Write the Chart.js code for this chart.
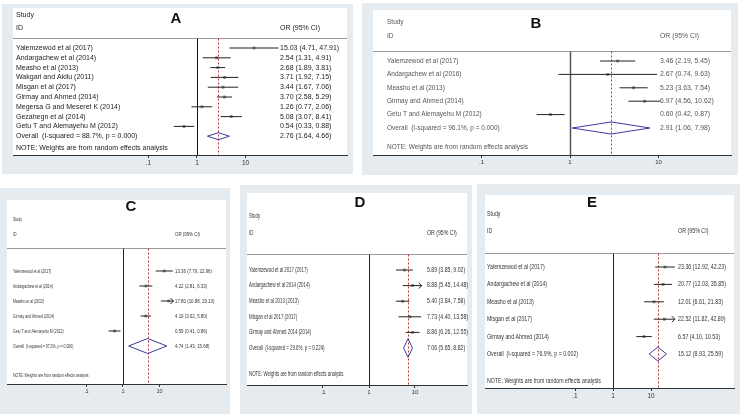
<!DOCTYPE html>
<html>
<head>
<meta charset="utf-8">
<script src="https://cdn.jsdelivr.net/npm/chart.js@4.4.1/dist/chart.umd.min.js"></script>
<style>
html, body { margin: 0; padding: 0; background: #fff; }
body { width: 740px; height: 414px; position: relative; overflow: hidden; }
.panel { position: absolute; background: #e5ebee; }
.panel canvas { position: absolute; left: 0; top: 0; }
</style>
</head>
<body>
<div class="panel" id="pA"><canvas id="cA"></canvas></div>
<div class="panel" id="pB"><canvas id="cB"></canvas></div>
<div class="panel" id="pC"><canvas id="cC"></canvas></div>
<div class="panel" id="pD"><canvas id="cD"></canvas></div>
<div class="panel" id="pE"><canvas id="cE"></canvas></div>
<script>
// ---- data ----
const studiesA = ["Yalemzewod et al (2017)", "Andargachew et al (2014)", "Measho et al (2013)", "Wakgari and Akilu (2011)", "Misgan et al (2017)", "Girmay and Ahmed (2014)", "Megersa G and Meseret K (2014)", "Gezahegn et al (2014)", "Getu T and Alemayehu M (2012)"];
const orA = [15.03, 2.54, 2.68, 3.71, 3.44, 3.70, 1.26, 5.08, 0.54];
const loA = [4.71, 1.31, 1.89, 1.92, 1.67, 2.58, 0.77, 3.07, 0.33];
const hiA = [47.91, 4.91, 3.81, 7.15, 7.06, 5.29, 2.06, 8.41, 0.88];
const overallA = [2.76, 1.64, 4.66];
const overallLabelA = "Overall  (I-squared = 88.7%, p = 0.000)";

const studiesB = ["Yalemzewod et al (2017)", "Andargachew et al (2016)", "Measho et al (2013)", "Girmay and Ahmed (2014)", "Getu T and Alemayehu M (2012)"];
const orB = [3.46, 2.67, 5.23, 6.97, 0.60];
const loB = [2.19, 0.74, 3.63, 4.56, 0.42];
const hiB = [5.45, 9.63, 7.54, 10.62, 0.87];
const overallB = [2.91, 1.06, 7.98];
const overallLabelB = "Overall  (I-squared = 96.1%, p = 0.000)";

const studiesC = ["Yalemzewod et al (2017)", "Andargachew et al (2014)", "Measho et al (2013)", "Girmay and Ahmed (2014)", "Getu T and Alemayehu M (2012)"];
const orC = [13.36, 4.22, 17.80, 4.19, 0.59];
const loC = [7.79, 2.81, 10.88, 3.02, 0.41];
const hiC = [22.96, 6.33, 29.13, 5.80, 0.86];
const overallC = [4.74, 1.43, 15.68];
const overallLabelC = "Overall  (I-squared = 97.2%, p = 0.000)";

const studiesD = ["Yalemzewod et al 2017 (2017)", "Andargachew et al 2014 (2014)", "Measho et al 2013 (2013)", "Misgan et al 2017 (2017)", "Girmay and Ahmed 2014 (2014)"];
const orD = [5.89, 8.88, 5.40, 7.73, 8.86];
const loD = [3.85, 5.45, 3.84, 4.40, 6.26];
const hiD = [9.02, 14.48, 7.58, 13.58, 12.55];
const overallD = [7.06, 5.65, 8.82];
const overallLabelD = "Overall  (I-squared = 29.6%, p = 0.224)";

const studiesE = ["Yalemzewod et al (2017)", "Andargachew et al (2014)", "Measho et al (2013)", "Misgan et al (2017)", "Girmay and Ahmed (2014)"];
const orE = [23.36, 20.77, 12.01, 22.52, 6.57];
const loE = [12.92, 12.03, 6.61, 11.82, 4.10];
const hiE = [42.23, 35.85, 21.83, 42.89, 10.53];
const overallE = [15.12, 8.93, 25.59];
const overallLabelE = "Overall  (I-squared = 76.9%, p = 0.002)";

const xTicks = [0.1, 1, 10];
const xTickLabels = [".1", "1", "10"];
const noteText = "NOTE: Weights are from random effects analysis";

// ---- layout (page pixels) ----
const panels = [
  {id: "A", studies: studiesA, or: orA, lo: loA, hi: hiA, overall: overallA, overallLabel: overallLabelA,
   frame: [2, 4, 353, 174], area: [13, 8, 347, 155], one: 197, dec: 48.5, row1: 48, step: 9.8,
   head: 38, studyY: 15, idY: 28, noteY: 148, labelX: 16, valueX: 280, title: [176, 19],
   font: 7, lsx: 1, vsx: 1, color: "#222", tickFont: 6.5, diamond: 0.36, clip: 1e9, nullW: 1, nullC: "#111"},
  {id: "B", studies: studiesB, or: orB, lo: loB, hi: hiB, overall: overallB, overallLabel: overallLabelB,
   frame: [362, 3, 738, 175], area: [373, 10, 731, 155], one: 570, dec: 88.5, row1: 61, step: 13.4,
   head: 51, studyY: 22, idY: 36, noteY: 147, labelX: 387, valueX: 660, title: [536, 24],
   font: 6.5, lsx: 1, vsx: 1.05, color: "#555", tickFont: 6, diamond: 0.45, clip: 1e9, nullW: 1.5, nullC: "#555"},
  {id: "C", studies: studiesC, or: orC, lo: loC, hi: hiC, overall: overallC, overallLabel: overallLabelC,
   frame: [0, 188, 230, 414], area: [7, 200, 228, 384], one: 124, dec: 37, row1: 271, step: 15,
   head: 248, studyY: 219, idY: 234, noteY: 375, labelX: 13, valueX: 175, title: [131, 207],
   font: 6, lsx: 0.58, vsx: 0.73, color: "#333", tickFont: 5.5, diamond: 0.5, clip: 24, nullW: 1, nullC: "#222"},
  {id: "D", studies: studiesD, or: orD, lo: loD, hi: hiD, overall: overallD, overallLabel: overallLabelD,
   frame: [240, 185, 472, 414], area: [247, 193, 467, 385], one: 369, dec: 46, row1: 270, step: 15.6,
   head: 254, studyY: 216, idY: 233, noteY: 374, labelX: 249, valueX: 427, title: [360, 203],
   font: 6.5, lsx: 0.67, vsx: 0.8, color: "#333", tickFont: 6, diamond: 0.6, clip: 14, nullW: 1, nullC: "#222"},
  {id: "E", studies: studiesE, or: orE, lo: loE, hi: hiE, overall: overallE, overallLabel: overallLabelE,
   frame: [477, 184, 740, 414], area: [485, 195, 734, 388], one: 613, dec: 38, row1: 267, step: 17.4,
   head: 253, studyY: 214, idY: 231, noteY: 381, labelX: 487, valueX: 678, title: [592, 203],
   font: 7, lsx: 0.75, vsx: 0.76, color: "#333", tickFont: 6.5, diamond: 0.4, clip: 42.5, nullW: 1, nullC: "#222"}
];

const FONT = '"Liberation Sans", Arial, sans-serif';

function fmt(v) { return v.toFixed(2); }

function txt(ctx, s, x, y, size, sx, color, weight, align) {
  ctx.save();
  ctx.font = (weight || "normal") + " " + size + "px " + FONT;
  ctx.fillStyle = color;
  ctx.textBaseline = "middle";
  ctx.textAlign = align || "left";
  ctx.translate(x, y);
  ctx.scale(sx, 1);
  ctx.fillText(s, 0, 0);
  ctx.restore();
}

function seg(ctx, x1, y1, x2, y2) {
  ctx.beginPath(); ctx.moveTo(x1, y1); ctx.lineTo(x2, y2); ctx.stroke();
}

function makePanel(p) {
  const [fl, ft, fr, fb] = p.frame;
  const [al, at, ar, ab] = p.area;
  const div = document.getElementById("p" + p.id);
  div.style.left = fl + "px"; div.style.top = ft + "px";
  div.style.width = (fr - fl) + "px"; div.style.height = (fb - ft) + "px";
  const canvas = document.getElementById("c" + p.id);
  canvas.width = fr - fl; canvas.height = fb - ft;

  const n = p.studies.length;
  const yMin = 1 - (p.row1 - at) / p.step;
  const yMax = 1 + (ab - p.row1) / p.step;
  const xMin = Math.pow(10, (al - p.one) / p.dec);
  const xMax = Math.pow(10, (ar - p.one) / p.dec);

  const datasets = [];
  p.studies.forEach((s, i) => {
    datasets.push({
      data: [{x: p.lo[i], y: i + 1}, {x: Math.min(p.hi[i], p.clip), y: i + 1}],
      showLine: true, borderColor: "#222", borderWidth: 1, pointRadius: 0
    });
  });
  datasets.push({
    data: p.or.map((v, i) => ({x: v, y: i + 1})),
    pointStyle: "rect", pointRadius: 2, backgroundColor: "#8a8a8a", borderWidth: 0
  });
  datasets.push({
    data: p.or.map((v, i) => ({x: v, y: i + 1})),
    pointStyle: "circle", pointRadius: 1, backgroundColor: "#000", borderWidth: 0
  });
  const [oe, ol, oh] = p.overall;
  const oy = n + 1;
  datasets.push({
    data: [{x: ol, y: oy}, {x: oe, y: oy - p.diamond}, {x: oh, y: oy}, {x: oe, y: oy + p.diamond}, {x: ol, y: oy}],
    showLine: true, borderColor: "#3d3d9c", borderWidth: 1, pointRadius: 0
  });

  const forest = {
    id: "forest" + p.id,
    beforeDraw(chart) {
      const {ctx, chartArea: a} = chart;
      ctx.save();
      ctx.fillStyle = "#fff";
      ctx.fillRect(a.left, a.top, a.right - a.left, a.bottom - a.top);
      ctx.restore();
    },
    beforeDatasetsDraw(chart) {
      const {ctx, chartArea: a} = chart;
      const xs = chart.scales.x;
      const hy = Math.round(p.head - ft) + 0.5;
      ctx.save();
      ctx.strokeStyle = "#9a9a9a"; ctx.lineWidth = 1;
      seg(ctx, a.left, hy, a.right, hy);
      const x1 = Math.round(xs.getPixelForValue(1)) + 0.5;
      ctx.strokeStyle = p.nullC; ctx.lineWidth = p.nullW;
      seg(ctx, x1, hy, x1, a.bottom);
      const xo = Math.round(xs.getPixelForValue(oe)) + 0.5;
      ctx.strokeStyle = "#b83232"; ctx.lineWidth = 1; ctx.setLineDash([2, 2]);
      seg(ctx, xo, hy, xo, a.bottom);
      ctx.restore();
    },
    afterDatasetsDraw(chart) {
      const ctx = chart.ctx;
      const xs = chart.scales.x, ys = chart.scales.y;
      // arrows where the CI runs past the plotted range
      ctx.save();
      ctx.strokeStyle = "#222"; ctx.lineWidth = 1;
      p.hi.forEach((h, i) => {
        if (h > p.clip) {
          const xc = xs.getPixelForValue(p.clip), yc = ys.getPixelForValue(i + 1);
          ctx.beginPath();
          ctx.moveTo(xc - 3, yc - 3); ctx.lineTo(xc, yc); ctx.lineTo(xc - 3, yc + 3);
          ctx.stroke();
        }
      });
      ctx.restore();
      // text columns
      const lx = p.labelX - fl, vx = p.valueX - fl;
      txt(ctx, "Study", lx, p.studyY - ft, p.font, p.lsx, p.color);
      txt(ctx, "ID", lx, p.idY - ft, p.font, p.lsx, p.color);
      txt(ctx, "OR (95% CI)", vx, p.idY - ft, p.font, p.vsx, p.color);
      p.studies.forEach((s, i) => {
        const y = ys.getPixelForValue(i + 1);
        txt(ctx, s, lx, y, p.font, p.lsx, p.color);
        txt(ctx, fmt(p.or[i]) + " (" + fmt(p.lo[i]) + ", " + fmt(p.hi[i]) + ")", vx, y, p.font, p.vsx, p.color);
      });
      const y0 = ys.getPixelForValue(oy);
      txt(ctx, p.overallLabel, lx, y0, p.font, p.lsx, p.color);
      txt(ctx, fmt(oe) + " (" + fmt(ol) + ", " + fmt(oh) + ")", vx, y0, p.font, p.vsx, p.color);
      txt(ctx, noteText, lx, p.noteY - ft, p.font, p.lsx, p.color);
      txt(ctx, p.id, p.title[0] - fl, p.title[1] - ft, 15, 1, "#111", "bold", "center");
    }
  };

  new Chart(canvas, {
    type: "scatter",
    data: {datasets: datasets},
    options: {
      responsive: false,
      animation: false,
      devicePixelRatio: 1,
      layout: {padding: {left: al - fl, right: fr - ar, top: at - ft, bottom: 0}},
      plugins: {legend: {display: false}, tooltip: {enabled: false}},
      scales: {
        x: {
          type: "logarithmic",
          min: xMin, max: xMax,
          afterBuildTicks: (s) => { s.ticks = xTicks.map(v => ({value: v})); },
          afterFit: (s) => { s.height = fb - ab; },
          ticks: {
            callback: (v, i) => xTickLabels[i],
            font: {size: p.tickFont, family: FONT},
            color: "#333", padding: 1, maxRotation: 0, autoSkip: false
          },
          grid: {display: true, drawOnChartArea: false, drawTicks: true, tickLength: 3, color: "#333"},
          border: {display: true, color: "#333", width: 1}
        },
        y: {type: "linear", reverse: true, min: yMin, max: yMax, display: false}
      }
    },
    plugins: [forest]
  });
}

panels.forEach(makePanel);
</script>
</body>
</html>
